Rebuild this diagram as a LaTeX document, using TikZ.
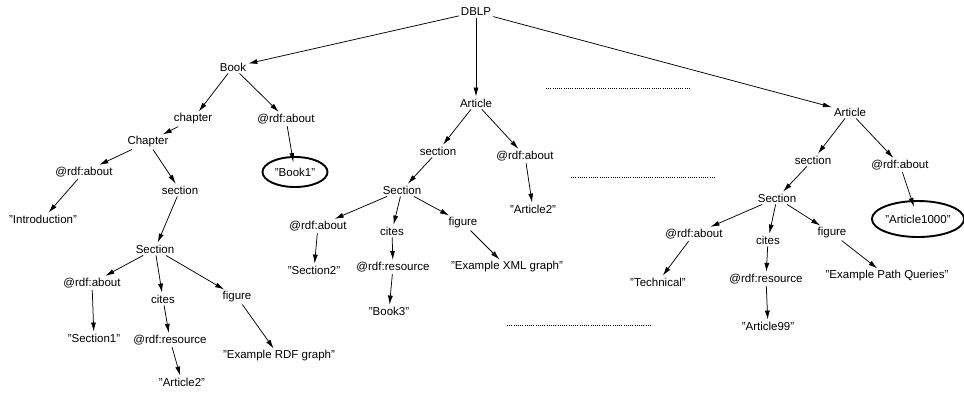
\documentclass[tikz,border=0pt]{standalone}
\usepackage{fontspec}
\setmainfont{Liberation Sans}
\usetikzlibrary{arrows.meta,shapes.geometric}
\begin{document}
\begin{tikzpicture}[x=1pt,y=-1pt,
  lbl/.style={font=\fontsize{11.5}{13}\selectfont, inner sep=2pt},
  val/.style={lbl, ellipse, draw, line width=1.9pt, inner sep=0pt},
  arr/.style={-{Latex[length=9pt,width=5pt]}, line width=0.75pt},
  dots/.style={line width=0.7pt, dash pattern=on 0.7pt off 1.5pt}]
\useasboundingbox (0,0) rectangle (964,392);
% top
\node[lbl] (dblp) at (476,12) {DBLP};
\node[lbl] (book) at (233,67) {Book};
\node[lbl] (art) at (476,103) {Article};
\node[lbl] (artR) at (850,112) {Article};
% book subtree
\node[lbl] (bch) at (193,119) {chapter};
\node[lbl] (bab) at (286,119) {@rdf:about};
\node[val, minimum width=65pt, minimum height=30pt] (bk1) at (295,172) {"Book1"};
\node[lbl] (chap) at (148,142) {Chapter};
\node[lbl] (cab) at (84,172) {@rdf:about};
\node[lbl] (csec) at (180,190) {section};
\node[lbl] (intro) at (43,219) {"Introduction"};
\node[lbl] (secL) at (155,249) {Section};
\node[lbl] (sLab) at (92,283) {@rdf:about};
\node[lbl] (sLcit) at (163,299) {cites};
\node[lbl] (sLfig) at (237,297) {figure};
\node[lbl] (sec1) at (94,338) {"Section1"};
\node[lbl] (sLres) at (170,340) {@rdf:resource};
\node[lbl] (exrdf) at (279,356) {"Example RDF graph"};
\node[lbl] (art2L) at (182,382) {"Article2"};
% middle subtree
\node[lbl] (msec) at (438,151) {section};
\node[lbl] (mab) at (525,156) {@rdf:about};
\node[lbl] (mSec) at (402,190) {Section};
\node[lbl] (mart2) at (533,209) {"Article2"};
\node[lbl] (mSab) at (318,226) {@rdf:about};
\node[lbl] (mcit) at (392,231) {cites};
\node[lbl] (mfig) at (463,223) {figure};
\node[lbl] (sec2) at (314,270) {"Section2"};
\node[lbl] (mres) at (393,267) {@rdf:resource};
\node[lbl] (exxml) at (507,267) {"Example XML graph"};
\node[lbl] (book3) at (389,311) {"Book3"};
% right subtree
\node[lbl] (rsec) at (813,160) {section};
\node[lbl] (rab) at (900,165) {@rdf:about};
\node[lbl] (rSec) at (777,198) {Section};
\node[val, minimum width=90pt, minimum height=36pt] (a1000) at (918,219) {"Article1000"};
\node[lbl] (rSab) at (694,234) {@rdf:about};
\node[lbl] (rcit) at (768,240) {cites};
\node[lbl] (rfig) at (832,233) {figure};
\node[lbl] (tech) at (658,282) {"Technical"};
\node[lbl] (rres) at (766,279) {@rdf:resource};
\node[lbl] (expq) at (887,276) {"Example Path Queries"};
\node[lbl] (art99) at (768,326) {"Article99"};
% dotted lines
\coordinate (d1a) at (546,88); \coordinate (d1b) at (690,88);
\coordinate (d2a) at (571,177); \coordinate (d2b) at (715,177);
\coordinate (d3a) at (507,325); \coordinate (d3b) at (651,325);
\draw[dots] (d1a) -- (d1b);
\draw[dots] (d2a) -- (d2b);
\draw[dots] (d3a) -- (d3b);
% edges
\draw[arr] (dblp) -- (book);
\draw[arr] (dblp) -- (art);
\draw[arr] (dblp) -- (artR);
\draw[arr] (book) -- (bch);
\draw[arr] (book) -- (bab);
\draw[arr, shorten >=-6pt] (bab) -- (bk1);
\draw[arr] (bch) -- (chap);
\draw[arr] (chap) -- (cab);
\draw[arr] (chap) -- (csec);
\draw[arr] (cab) -- (intro);
\draw[arr] (csec) -- (secL);
\draw[arr] (secL) -- (sLab);
\draw[arr] (secL) -- (sLcit);
\draw[arr] (secL) -- (sLfig);
\draw[arr] (sLab) -- (sec1);
\draw[arr] (sLcit) -- (sLres);
\draw[arr] (sLfig) -- (exrdf);
\draw[arr] (sLres) -- (art2L);
\draw[arr] (art) -- (msec);
\draw[arr] (art) -- (mab);
\draw[arr] (mab) -- (mart2);
\draw[arr] (msec) -- (mSec);
\draw[arr] (mSec) -- (mSab);
\draw[arr] (mSec) -- (mcit);
\draw[arr] (mSec) -- (mfig);
\draw[arr] (mSab) -- (sec2);
\draw[arr] (mcit) -- (mres);
\draw[arr] (mfig) -- (exxml);
\draw[arr] (mres) -- (book3);
\draw[arr] (artR) -- (rsec);
\draw[arr] (artR) -- (rab);
\draw[arr, shorten >=-7pt] (rab) -- (a1000);
\draw[arr] (rsec) -- (rSec);
\draw[arr] (rSec) -- (rSab);
\draw[arr] (rSec) -- (rcit);
\draw[arr] (rSec) -- (rfig);
\draw[arr] (rSab) -- (tech);
\draw[arr] (rcit) -- (rres);
\draw[arr] (rfig) -- (expq);
\draw[arr] (rres) -- (art99);
\end{tikzpicture}
\end{document}
